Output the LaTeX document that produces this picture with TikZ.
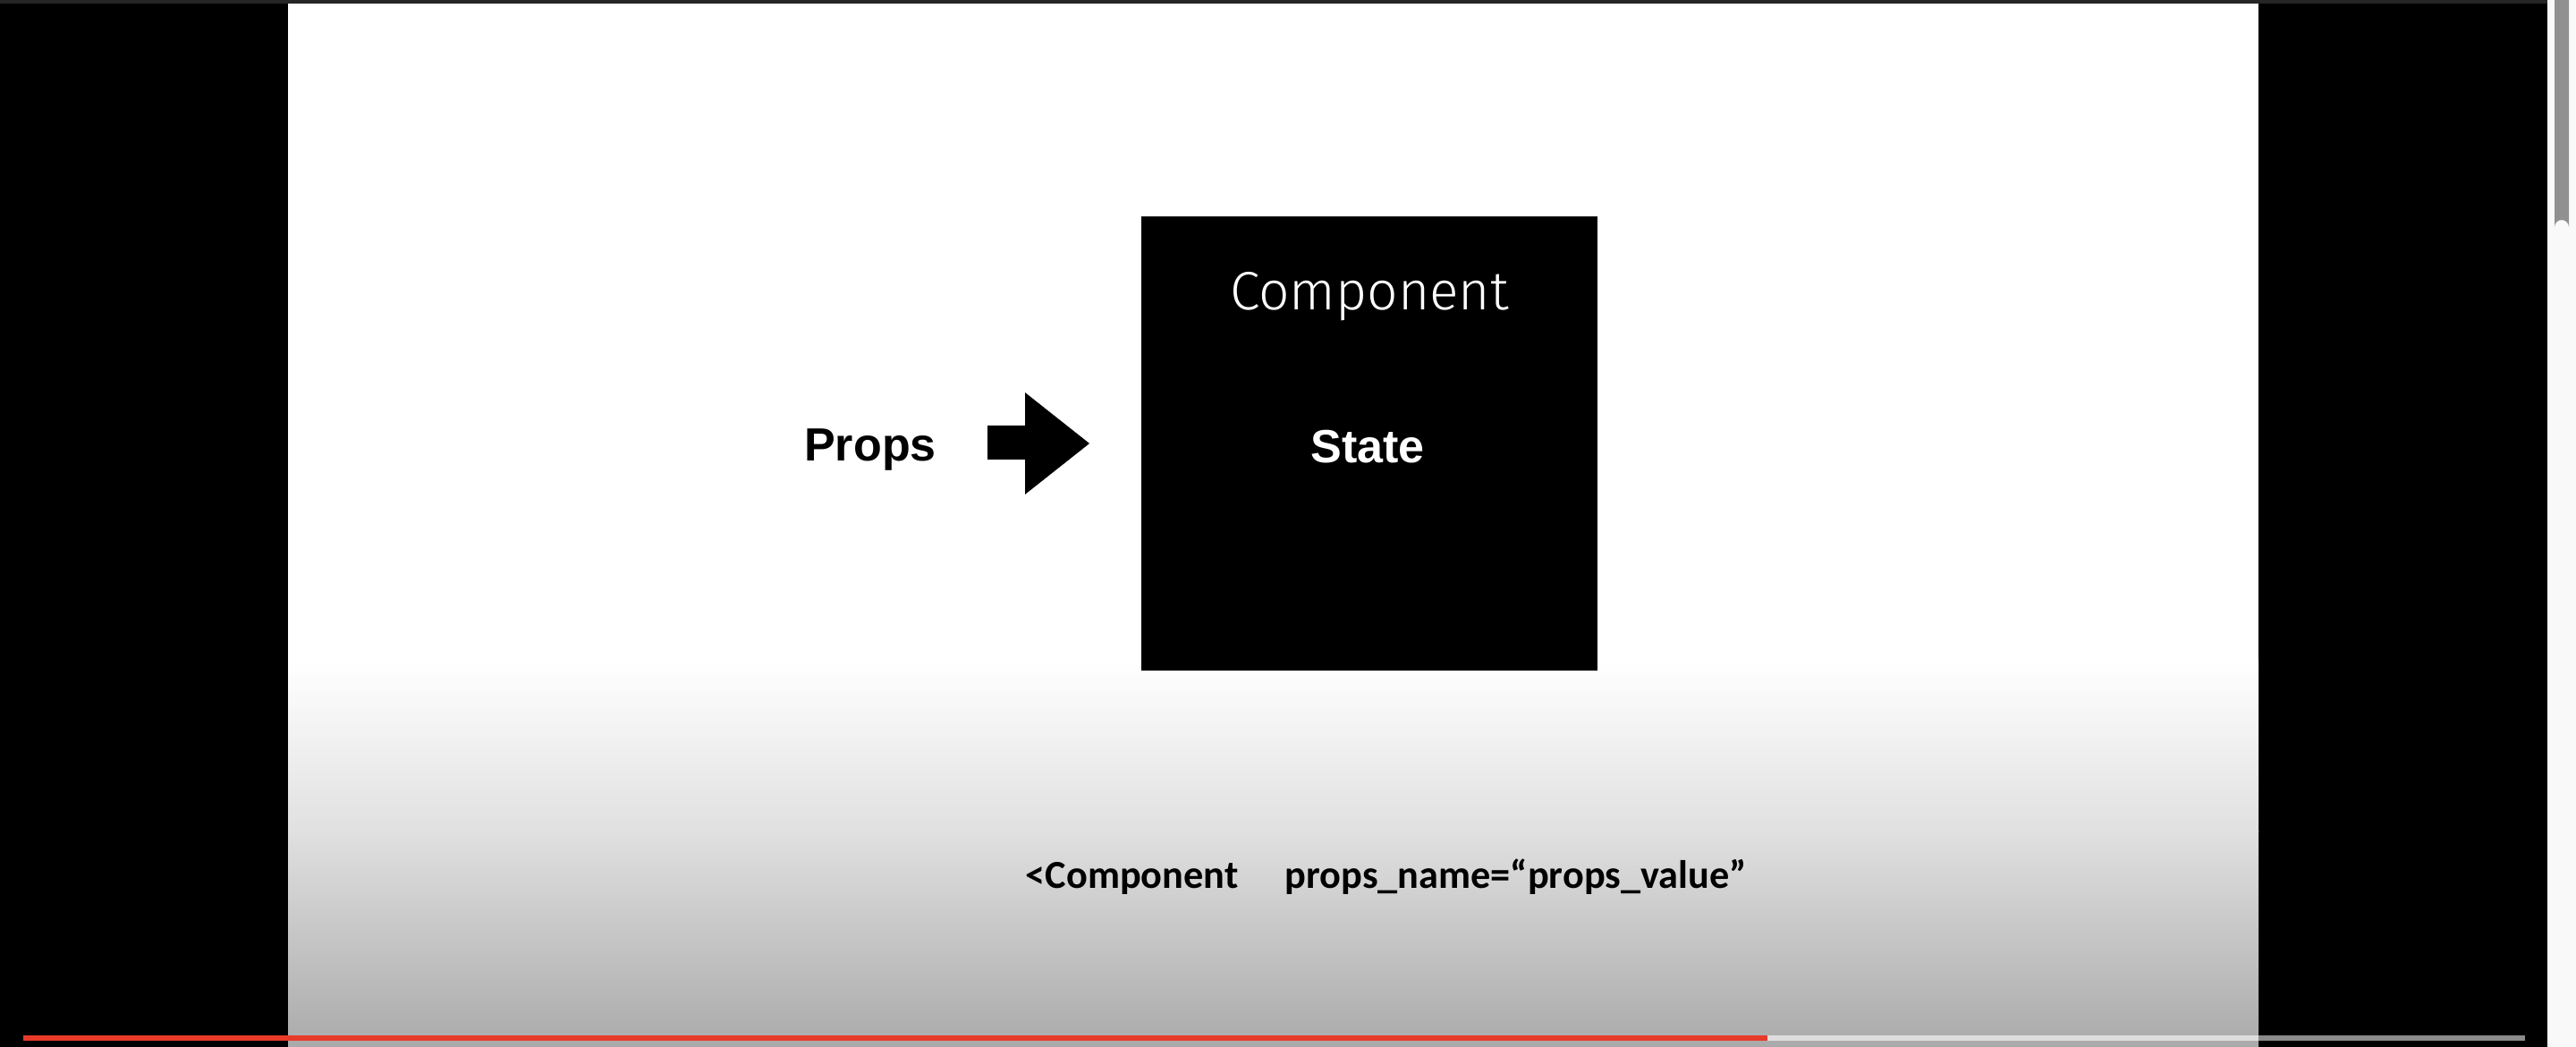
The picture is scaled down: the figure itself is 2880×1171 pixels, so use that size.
\documentclass[tikz,border=0pt]{standalone}
\usepackage{fontspec}
\setmainfont{Liberation Sans}
\newfontfamily\lightfont{Fira Sans Light}
\newfontfamily\codefont{Carlito}
\definecolor{topbar}{RGB}{38,38,38}
\definecolor{strip}{RGB}{249,249,249}
\definecolor{thumb}{RGB}{144,144,144}
\definecolor{ytred}{RGB}{232,58,41}
\definecolor{barlight}{RGB}{222,222,222}
\definecolor{bardark}{RGB}{138,138,138}
\definecolor{gmid}{RGB}{224,224,224}
\definecolor{gbot}{RGB}{170,170,170}
\begin{document}
\begin{tikzpicture}[x=0.01cm,y=-0.01cm,
  boldlabel/.style={font=\fontsize{14.8}{16}\selectfont\bfseries, inner sep=0pt, anchor=base},
  codelabel/.style={font=\codefont\fontsize{12.6}{14}\selectfont\bfseries, inner sep=0pt, anchor=base west}]
% background
\fill[black] (0,0) rectangle (2880,1171);
\useasboundingbox (0,0) rectangle (2880,1171);
% slide
\fill[white] (322,4) rectangle (2525,741);
\shade[top color=white, bottom color=gmid] (322,740) rectangle (2525,931);
\shade[top color=gmid, bottom color=gbot] (322,930) rectangle (2525,1171);
% window chrome
\fill[topbar] (0,0) rectangle (2848,4);
\fill[strip] (2848,0) rectangle (2880,1171);
\fill[thumb] (2856,0) -- (2856,254) arc[start angle=180, end angle=360, radius=8] -- (2872,0) -- cycle;
% progress bar
\fill[ytred] (26,1158) rectangle (1976,1164);
\fill[barlight] (1976,1158) rectangle (2525,1164);
\fill[bardark] (2525,1158) rectangle (2823,1164);
% component box
\node[fill=black, minimum width=510*0.01cm, minimum height=508*0.01cm, inner sep=0pt, anchor=north west] (box) at (1275,241) {};
\node[font=\lightfont\fontsize{17.2}{19}\selectfont, text=white, inner sep=0pt, anchor=base] (title) at (1531,347) {Component};
\node[boldlabel, text=white] (state) at (1529,518) {State};
% props and arrow
\node[boldlabel] (props) at (973,516) {Props};
\fill[black] (1104,476) -- (1146,476) -- (1146,439) -- (1218,496) -- (1146,553) -- (1146,514) -- (1104,514) -- cycle;
% code line
\node[codelabel] (tag) at (1146,994) {<Component};
\node[codelabel] (attr) at (1436,994) {props\_name=“props\_value”};
\end{tikzpicture}
\end{document}
